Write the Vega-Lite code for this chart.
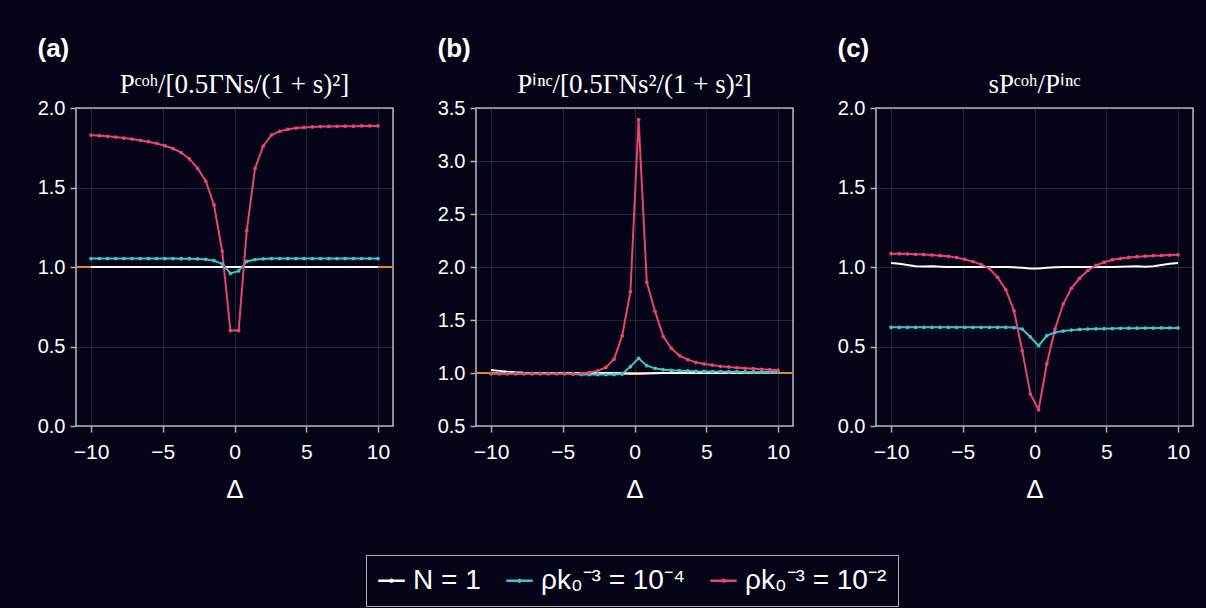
{
  "$schema": "https://vega.github.io/schema/vega-lite/v6.json",
  "padding": {"left": 36, "top": 34, "right": 14, "bottom": 1},
  "background": "#050318",
  "datasets": {
    "rows": [
      {"p":"a","x":-10,"n1":1,"c4":1.053,"c2":1.830},
      {"p":"a","x":-9.4286,"n1":1,"c4":1.053,"c2":1.826},
      {"p":"a","x":-8.8571,"n1":1,"c4":1.053,"c2":1.822},
      {"p":"a","x":-8.2857,"n1":1,"c4":1.053,"c2":1.817},
      {"p":"a","x":-7.7143,"n1":1,"c4":1.053,"c2":1.811},
      {"p":"a","x":-7.1429,"n1":1,"c4":1.053,"c2":1.805},
      {"p":"a","x":-6.5714,"n1":1,"c4":1.053,"c2":1.797},
      {"p":"a","x":-6,"n1":1,"c4":1.053,"c2":1.788},
      {"p":"a","x":-5.4286,"n1":1,"c4":1.053,"c2":1.777},
      {"p":"a","x":-4.8571,"n1":1,"c4":1.053,"c2":1.763},
      {"p":"a","x":-4.2857,"n1":1,"c4":1.053,"c2":1.745},
      {"p":"a","x":-3.7143,"n1":1,"c4":1.052,"c2":1.72},
      {"p":"a","x":-3.1429,"n1":1,"c4":1.052,"c2":1.68},
      {"p":"a","x":-2.5714,"n1":1,"c4":1.051,"c2":1.62},
      {"p":"a","x":-2,"n1":1,"c4":1.048,"c2":1.54},
      {"p":"a","x":-1.4286,"n1":1,"c4":1.04,"c2":1.39},
      {"p":"a","x":-0.8571,"n1":1,"c4":1.02,"c2":1.10},
      {"p":"a","x":-0.2857,"n1":1,"c4":0.96,"c2":0.60},
      {"p":"a","x":0.2857,"n1":1,"c4":0.975,"c2":0.60},
      {"p":"a","x":0.8571,"n1":1,"c4":1.035,"c2":1.23},
      {"p":"a","x":1.4286,"n1":1,"c4":1.047,"c2":1.62},
      {"p":"a","x":2,"n1":1,"c4":1.051,"c2":1.76},
      {"p":"a","x":2.5714,"n1":1,"c4":1.053,"c2":1.83},
      {"p":"a","x":3.1429,"n1":1,"c4":1.053,"c2":1.853},
      {"p":"a","x":3.7143,"n1":1,"c4":1.053,"c2":1.866},
      {"p":"a","x":4.2857,"n1":1,"c4":1.053,"c2":1.874},
      {"p":"a","x":4.8571,"n1":1,"c4":1.053,"c2":1.878},
      {"p":"a","x":5.4286,"n1":1,"c4":1.053,"c2":1.881},
      {"p":"a","x":6,"n1":1,"c4":1.053,"c2":1.883},
      {"p":"a","x":6.5714,"n1":1,"c4":1.053,"c2":1.884},
      {"p":"a","x":7.1429,"n1":1,"c4":1.053,"c2":1.885},
      {"p":"a","x":7.7143,"n1":1,"c4":1.053,"c2":1.886},
      {"p":"a","x":8.2857,"n1":1,"c4":1.053,"c2":1.886},
      {"p":"a","x":8.8571,"n1":1,"c4":1.053,"c2":1.887},
      {"p":"a","x":9.4286,"n1":1,"c4":1.053,"c2":1.887},
      {"p":"a","x":10,"n1":1,"c4":1.053,"c2":1.887},

      {"p":"b","x":-10,"n1":1.028,"c4":0.995,"c2":0.994},
      {"p":"b","x":-9.4286,"n1":1.02,"c4":0.995,"c2":0.994},
      {"p":"b","x":-8.8571,"n1":1.012,"c4":0.995,"c2":0.994},
      {"p":"b","x":-8.2857,"n1":1.006,"c4":0.995,"c2":0.994},
      {"p":"b","x":-7.7143,"n1":1.002,"c4":0.995,"c2":0.994},
      {"p":"b","x":-7.1429,"n1":1,"c4":0.995,"c2":0.994},
      {"p":"b","x":-6.5714,"n1":1,"c4":0.995,"c2":0.994},
      {"p":"b","x":-6,"n1":1,"c4":0.995,"c2":0.994},
      {"p":"b","x":-5.4286,"n1":1,"c4":0.995,"c2":0.994},
      {"p":"b","x":-4.8571,"n1":1,"c4":0.995,"c2":0.994},
      {"p":"b","x":-4.2857,"n1":1,"c4":0.99,"c2":0.994},
      {"p":"b","x":-3.7143,"n1":1,"c4":0.985,"c2":0.995},
      {"p":"b","x":-3.1429,"n1":1,"c4":0.985,"c2":1.006},
      {"p":"b","x":-2.5714,"n1":1,"c4":0.985,"c2":1.02},
      {"p":"b","x":-2,"n1":1,"c4":0.985,"c2":1.053},
      {"p":"b","x":-1.4286,"n1":0.998,"c4":0.985,"c2":1.13},
      {"p":"b","x":-0.8571,"n1":0.995,"c4":0.99,"c2":1.352},
      {"p":"b","x":-0.2857,"n1":0.993,"c4":1.06,"c2":1.767},
      {"p":"b","x":0.2857,"n1":0.993,"c4":1.138,"c2":3.39},
      {"p":"b","x":0.8571,"n1":0.995,"c4":1.069,"c2":1.856},
      {"p":"b","x":1.4286,"n1":0.997,"c4":1.044,"c2":1.582},
      {"p":"b","x":2,"n1":1,"c4":1.031,"c2":1.346},
      {"p":"b","x":2.5714,"n1":1,"c4":1.025,"c2":1.233},
      {"p":"b","x":3.1429,"n1":1,"c4":1.022,"c2":1.163},
      {"p":"b","x":3.7143,"n1":1,"c4":1.019,"c2":1.126},
      {"p":"b","x":4.2857,"n1":1,"c4":1.016,"c2":1.10},
      {"p":"b","x":4.8571,"n1":1,"c4":1.015,"c2":1.085},
      {"p":"b","x":5.4286,"n1":1,"c4":1.013,"c2":1.075},
      {"p":"b","x":6,"n1":1,"c4":1.012,"c2":1.063},
      {"p":"b","x":6.5714,"n1":1.002,"c4":1.011,"c2":1.057},
      {"p":"b","x":7.1429,"n1":1.003,"c4":1.011,"c2":1.05},
      {"p":"b","x":7.7143,"n1":1.004,"c4":1.01,"c2":1.044},
      {"p":"b","x":8.2857,"n1":1.005,"c4":1.01,"c2":1.041},
      {"p":"b","x":8.8571,"n1":1.006,"c4":1.009,"c2":1.035},
      {"p":"b","x":9.4286,"n1":1.008,"c4":1.009,"c2":1.031},
      {"p":"b","x":10,"n1":1.01,"c4":1.009,"c2":1.028},

      {"p":"c","x":-10,"n1":1.025,"c4":0.621,"c2":1.084},
      {"p":"c","x":-9.4286,"n1":1.02,"c4":0.621,"c2":1.084},
      {"p":"c","x":-8.8571,"n1":1.012,"c4":0.621,"c2":1.082},
      {"p":"c","x":-8.2857,"n1":1.005,"c4":0.621,"c2":1.080},
      {"p":"c","x":-7.7143,"n1":1.003,"c4":0.621,"c2":1.078},
      {"p":"c","x":-7.1429,"n1":1.004,"c4":0.621,"c2":1.075},
      {"p":"c","x":-6.5714,"n1":1.002,"c4":0.621,"c2":1.071},
      {"p":"c","x":-6,"n1":1,"c4":0.621,"c2":1.067},
      {"p":"c","x":-5.4286,"n1":1,"c4":0.621,"c2":1.059},
      {"p":"c","x":-4.8571,"n1":1,"c4":0.621,"c2":1.048},
      {"p":"c","x":-4.2857,"n1":1,"c4":0.621,"c2":1.034},
      {"p":"c","x":-3.7143,"n1":1,"c4":0.621,"c2":1.015},
      {"p":"c","x":-3.1429,"n1":1,"c4":0.621,"c2":0.99},
      {"p":"c","x":-2.5714,"n1":1,"c4":0.621,"c2":0.935},
      {"p":"c","x":-2,"n1":1,"c4":0.621,"c2":0.857},
      {"p":"c","x":-1.4286,"n1":0.998,"c4":0.619,"c2":0.725},
      {"p":"c","x":-0.8571,"n1":0.995,"c4":0.61,"c2":0.474},
      {"p":"c","x":-0.2857,"n1":0.99,"c4":0.56,"c2":0.201},
      {"p":"c","x":0.2857,"n1":0.99,"c4":0.505,"c2":0.103},
      {"p":"c","x":0.8571,"n1":0.995,"c4":0.568,"c2":0.39},
      {"p":"c","x":1.4286,"n1":0.998,"c4":0.589,"c2":0.61},
      {"p":"c","x":2,"n1":1,"c4":0.597,"c2":0.767},
      {"p":"c","x":2.5714,"n1":1,"c4":0.603,"c2":0.866},
      {"p":"c","x":3.1429,"n1":1,"c4":0.607,"c2":0.929},
      {"p":"c","x":3.7143,"n1":1,"c4":0.61,"c2":0.978},
      {"p":"c","x":4.2857,"n1":1,"c4":0.611,"c2":1.01},
      {"p":"c","x":4.8571,"n1":1,"c4":0.612,"c2":1.03},
      {"p":"c","x":5.4286,"n1":1,"c4":0.613,"c2":1.045},
      {"p":"c","x":6,"n1":1.002,"c4":0.614,"c2":1.053},
      {"p":"c","x":6.5714,"n1":1.003,"c4":0.615,"c2":1.06},
      {"p":"c","x":7.1429,"n1":1.004,"c4":0.615,"c2":1.065},
      {"p":"c","x":7.7143,"n1":1.002,"c4":0.616,"c2":1.068},
      {"p":"c","x":8.2857,"n1":1.005,"c4":0.616,"c2":1.071},
      {"p":"c","x":8.8571,"n1":1.012,"c4":0.617,"c2":1.073},
      {"p":"c","x":9.4286,"n1":1.02,"c4":0.617,"c2":1.075},
      {"p":"c","x":10,"n1":1.025,"c4":0.617,"c2":1.077}
    ],
    "one": [{"y": 1}]
  },
  "bounds": "flush",
  "spacing": 83,
  "hconcat": [
    {
      "width": 317, "height": 318,
      "title": {"text": "Pᶜᵒʰ/[0.5ΓNs/(1 + s)²]"},
      "layer": [
        {
          "data": {"name": "one"},
          "mark": {"type": "rule", "color": "#e0872f", "strokeWidth": 2},
          "encoding": {"y": {"field": "y", "type": "quantitative", "scale": {"domain": [0, 2], "nice": false, "zero": false}}}
        },
        {
          "data": {"name": "rows"},
          "transform": [{"filter": "datum.p == 'a'"}, {"fold": ["n1", "c4", "c2"], "as": ["k", "v"]}],
          "mark": {"type": "line", "strokeWidth": 2},
          "encoding": {
            "x": {"field": "x", "type": "quantitative", "scale": {"domain": [-11.05, 11.05], "nice": false}, "axis": {"values": [-10, -5, 0, 5, 10], "title": "Δ"}},
            "y": {"field": "v", "type": "quantitative", "axis": {"values": [0, 0.5, 1, 1.5, 2], "format": ".1f", "title": "(a)"}},
            "color": {"field": "k", "type": "nominal"}
          }
        },
        {
          "data": {"name": "rows"},
          "transform": [{"filter": "datum.p == 'a'"}, {"fold": ["c4", "c2"], "as": ["k", "v"]}],
          "mark": {"type": "point", "filled": true, "size": 14, "opacity": 1},
          "encoding": {
            "x": {"field": "x", "type": "quantitative"},
            "y": {"field": "v", "type": "quantitative"},
            "color": {"field": "k", "type": "nominal"}
          }
        }
      ]
    },
    {
      "width": 317, "height": 318,
      "title": {"text": "Pⁱⁿᶜ/[0.5ΓNs²/(1 + s)²]"},
      "layer": [
        {
          "data": {"name": "one"},
          "mark": {"type": "rule", "color": "#e0872f", "strokeWidth": 2},
          "encoding": {"y": {"field": "y", "type": "quantitative", "scale": {"domain": [0.5, 3.5], "nice": false, "zero": false}}}
        },
        {
          "data": {"name": "rows"},
          "transform": [{"filter": "datum.p == 'b'"}, {"fold": ["n1", "c4", "c2"], "as": ["k", "v"]}],
          "mark": {"type": "line", "strokeWidth": 2},
          "encoding": {
            "x": {"field": "x", "type": "quantitative", "scale": {"domain": [-11.05, 11.05], "nice": false}, "axis": {"values": [-10, -5, 0, 5, 10], "title": "Δ"}},
            "y": {"field": "v", "type": "quantitative", "axis": {"values": [0.5, 1, 1.5, 2, 2.5, 3, 3.5], "format": ".1f", "title": "(b)"}},
            "color": {"field": "k", "type": "nominal"}
          }
        },
        {
          "data": {"name": "rows"},
          "transform": [{"filter": "datum.p == 'b'"}, {"fold": ["c4", "c2"], "as": ["k", "v"]}],
          "mark": {"type": "point", "filled": true, "size": 14, "opacity": 1},
          "encoding": {
            "x": {"field": "x", "type": "quantitative"},
            "y": {"field": "v", "type": "quantitative"},
            "color": {"field": "k", "type": "nominal"}
          }
        }
      ]
    },
    {
      "width": 317, "height": 318,
      "title": {"text": "sPᶜᵒʰ/Pⁱⁿᶜ"},
      "layer": [
        {
          "data": {"name": "rows"},
          "transform": [{"filter": "datum.p == 'c'"}, {"fold": ["n1", "c4", "c2"], "as": ["k", "v"]}],
          "mark": {"type": "line", "strokeWidth": 2},
          "encoding": {
            "x": {"field": "x", "type": "quantitative", "scale": {"domain": [-11.05, 11.05], "nice": false}, "axis": {"values": [-10, -5, 0, 5, 10], "title": "Δ"}},
            "y": {"field": "v", "type": "quantitative", "scale": {"domain": [0, 2], "nice": false, "zero": false}, "axis": {"values": [0, 0.5, 1, 1.5, 2], "format": ".1f", "title": "(c)"}},
            "color": {
              "field": "k", "type": "nominal",
              "scale": {"domain": ["n1", "c4", "c2"], "range": ["#ffffff", "#3ec5c8", "#e5466f"]},
              "legend": {
                "title": null,
                "labelExpr": "datum.value == 'n1' ? 'N = 1' : datum.value == 'c4' ? 'ρk₀⁻³ = 10⁻⁴' : 'ρk₀⁻³ = 10⁻²'"
              }
            }
          }
        },
        {
          "data": {"name": "rows"},
          "transform": [{"filter": "datum.p == 'c'"}, {"fold": ["c4", "c2"], "as": ["k", "v"]}],
          "mark": {"type": "point", "filled": true, "size": 14, "opacity": 1},
          "encoding": {
            "x": {"field": "x", "type": "quantitative"},
            "y": {"field": "v", "type": "quantitative"},
            "color": {"field": "k", "type": "nominal"}
          }
        }
      ]
    }
  ],
  "config": {
    "view": {"stroke": "#aeaeb6", "strokeWidth": 1.6},
    "title": {"font": "Liberation Serif", "fontSize": 27, "fontWeight": "normal", "color": "#ffffff", "anchor": "middle", "baseline": "alphabetic", "offset": -64},
    "axis": {
      "domain": false,
      "grid": true, "gridColor": "#ffffff", "gridOpacity": 0.13, "gridWidth": 1,
      "ticks": true, "tickColor": "#aeaeb6", "tickSize": 6, "tickWidth": 1.5,
      "labelColor": "#ffffff", "labelFont": "Liberation Sans", "labelFontSize": 20, "labelPadding": 5,
      "titleColor": "#ffffff"
    },
    "axisX": {"titleFont": "Liberation Sans", "titleFontSize": 26, "titleFontWeight": "normal", "titlePadding": 14, "labelPadding": 9, "labelFontSize": 21},
    "axisY": {"titleAngle": 0, "titleX": -39, "titleY": -52, "titleAlign": "left", "titleBaseline": "alphabetic", "titleFont": "Liberation Sans", "titleFontSize": 26, "titleFontWeight": "bold"},
    "legend": {
      "orient": "none", "legendX": 290, "legendY": 447,
      "direction": "horizontal",
      "strokeColor": "#aeaeb6", "fillColor": "#050318", "padding": 11,
      "labelColor": "#ffffff", "labelFont": "Liberation Sans", "labelFontSize": 28,
      "symbolType": "M-1,0H1M-0.07,0A0.07,0.07,0,1,1,0.07,0A0.07,0.07,0,1,1,-0.07,0Z",
      "symbolSize": 700, "symbolStrokeWidth": 2.5,
      "columnPadding": 20, "labelOffset": 7
    }
  }
}
